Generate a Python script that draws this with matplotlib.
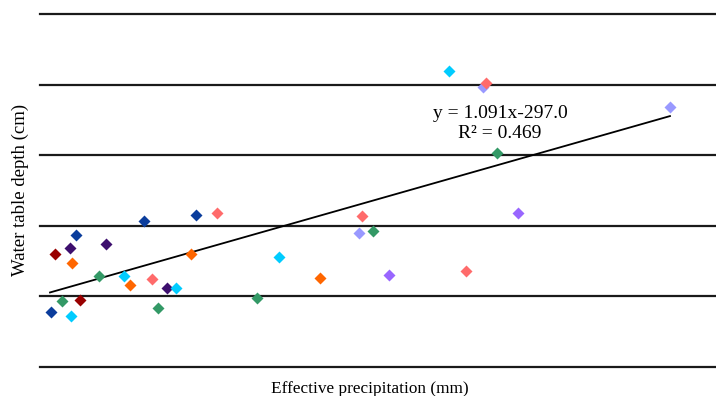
import matplotlib
matplotlib.use("Agg")
import matplotlib.pyplot as plt
import numpy as np

# Effective precipitation (mm) and water table depth (cm)
precip = [403.7, 422.9, 430.7, 378.6, 376.4, 389.7, 370.8, 377.1, 421.1, 387.1,
          396.3, 398.6, 406.7, 412.2, 415.5, 373.4, 380.1, 369.4, 376.8, 408.9,
          484.3, 483.1, 488.3, 541.9, 453.6, 468.7, 494.2, 522.7, 445.5, 516.4,
          529.0, 530.1, 598.0, 534.1]
depth = [206.8, 215.3, 218.1, 187.0, 168.6, 174.2, 160.1, 147.3, 160.1, 128.9,
         128.9, 116.1, 124.6, 111.9, 111.9, 93.5, 94.9, 77.9, 72.2, 83.6,
         213.9, 189.8, 192.6, 218.1, 155.8, 126.1, 130.3, 136.0, 97.7, 419.3,
         396.6, 402.3, 368.3, 303.1]
point_colors = ["#0B3D9C", "#0B3D9C", "#FF6B6B", "#0B3D9C", "#3D0F6E", "#3D0F6E",
                "#990000", "#FF6600", "#FF6600", "#339966", "#00CCFF", "#FF6600",
                "#FF6B6B", "#3D0F6E", "#00CCFF", "#339966", "#990000", "#0B3D9C",
                "#00CCFF", "#339966", "#FF6B6B", "#9999FF", "#339966", "#9966FF",
                "#00CCFF", "#FF6600", "#9966FF", "#FF6B6B", "#339966", "#00CCFF",
                "#9999FF", "#FF6B6B", "#9999FF", "#339966"]

slope, intercept = 1.091, -297.0
r2 = 0.469
fit_x = [369.0, 598.0]
gridlines = [0, 100, 200, 300, 400, 500]

plt.rcParams['font.family'] = ['Liberation Serif', 'DejaVu Serif']

fig = plt.figure(figsize=(7.16, 3.96), dpi=100)
ax = fig.add_axes([40/716, 1-367/396, 676/716, (367-14)/396])
ax.set_xlim(365.3, 615.0)
ax.set_ylim(0, 500)

for g in gridlines:
    ax.axhline(g, color="#1a1a1a", lw=1.6, zorder=1, clip_on=False)

for xv, yv, c in zip(precip, depth, point_colors):
    ax.plot(xv, yv, marker='D', ms=6.3, color=c, mec='none', ls='none', zorder=3, clip_on=False)

fx = np.array(fit_x)
ax.plot(fx, slope*fx + intercept, color='black', lw=1.3, zorder=2)

ax.text(500/716, 1-113/396, f"y = {slope:.3f}x{intercept:.1f}", transform=fig.transFigure,
        ha='center', va='center', fontsize=14)
ax.text(500/716, 1-134/396, f"R\u00b2 = {r2:.3f}", transform=fig.transFigure,
        ha='center', va='center', fontsize=14)

for s in ax.spines.values():
    s.set_visible(False)
ax.set_xticks([])
ax.set_yticks([])

fig.text(369.5/716, 1-393/396, "Effective precipitation (mm)", ha='center', va='baseline', fontsize=12.4)
fig.text(20/716, 1-190/396, "Water table depth (cm)", ha='center', va='center',
         rotation=90, fontsize=13.5)

fig.savefig("out.png", dpi=100)
